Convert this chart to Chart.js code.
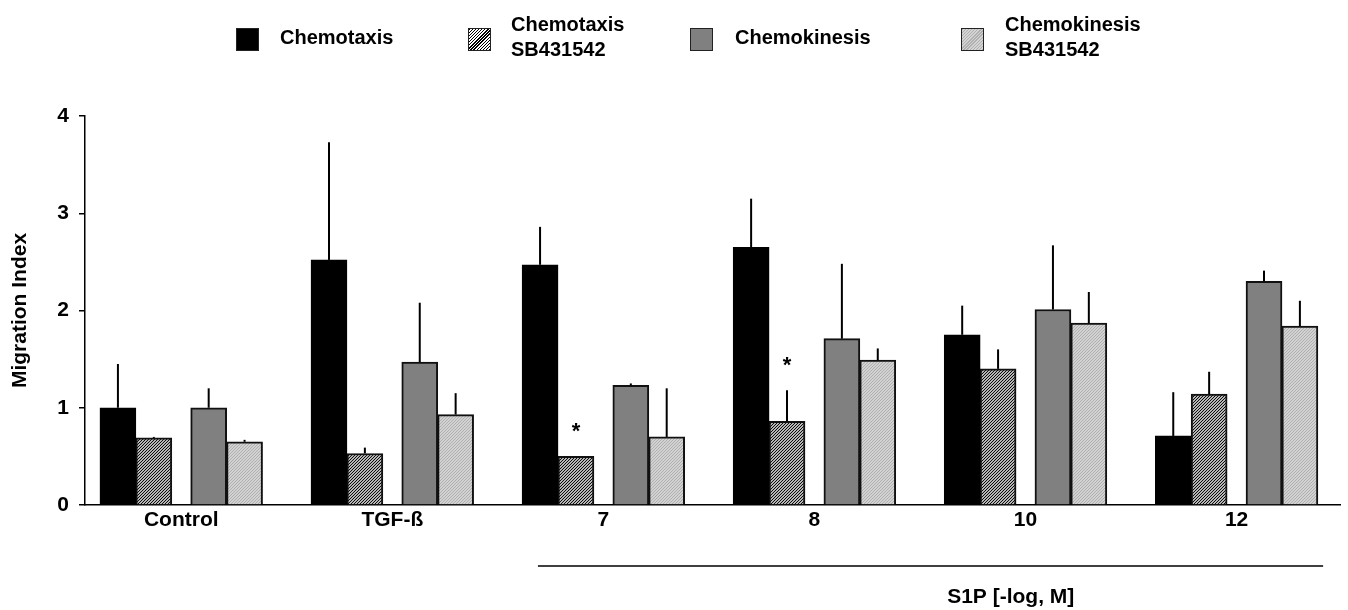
<!DOCTYPE html>
<html>
<head>
<meta charset="utf-8">
<script src="https://cdn.jsdelivr.net/npm/chart.js@4.4.1/dist/chart.umd.min.js"></script>
<style>
  html, body { margin: 0; padding: 0; background: #fff; }
  #wrap { position: relative; width: 1348px; height: 610px; overflow: hidden; }
  #chart { position: absolute; left: 0; top: 0; }
  .sw { position: absolute; width: 23px; height: 23px; border: 1.5px solid #222; box-sizing: border-box; }
  .lt { position: absolute; font: bold 20px "Liberation Sans", Arial, sans-serif; line-height: 25px; color: #000; white-space: nowrap; }
</style>
</head>
<body>
<div id="wrap">
  <canvas id="chart" width="1348" height="610"></canvas>
  <div class="sw" style="left:236px;top:28px;background:#000"></div>
  <div class="lt" style="left:280px;top:25px">Chemotaxis</div>
  <div class="sw" style="left:468px;top:28px;background:repeating-linear-gradient(135deg,#000 0 1px,#fff 1px 2.2px)"></div>
  <div class="lt" style="left:511px;top:12px">Chemotaxis<br>SB431542</div>
  <div class="sw" style="left:690px;top:28px;background:#808080"></div>
  <div class="lt" style="left:735px;top:25px">Chemokinesis</div>
  <div class="sw" style="left:961px;top:28px;background:repeating-linear-gradient(135deg,#b0b0b0 0 1px,#d4d4d4 1px 2.2px)"></div>
  <div class="lt" style="left:1005px;top:12px">Chemokinesis<br>SB431542</div>
</div>
<script>
// values
const groups = ['Control', 'TGF-ß', '7', '8', '10', '12'];
const chemotaxis     = [1.00, 2.52, 2.47, 2.65, 1.75, 0.71];
const chemotaxisSD   = [0.45, 1.21, 0.39, 0.50, 0.30, 0.45];
const chemotaxisSB   = [0.69, 0.53, 0.50, 0.86, 1.40, 1.14];
const chemotaxisSBSD = [0.01, 0.06, 0.00, 0.32, 0.20, 0.23];
const chemokinesis   = [1.00, 1.47, 1.23, 1.71, 2.01, 2.30];
const chemokinesisSD = [0.20, 0.61, 0.02, 0.77, 0.66, 0.11];
const chemokinesisSB   = [0.65, 0.93, 0.70, 1.49, 1.87, 1.84];
const chemokinesisSBSD = [0.02, 0.22, 0.50, 0.12, 0.32, 0.26];
const significance = ['', '', '*', '*', '', ''];
const yTicks = [0, 1, 2, 3, 4];

const FONT = '"Liberation Sans", Arial, sans-serif';

function hatch(bg, fg, size, lw) {
    var c = document.createElement('canvas');
    c.width = c.height = size;
    var x = c.getContext('2d');
    x.fillStyle = bg;
    x.fillRect(0, 0, size, size);
    x.strokeStyle = fg;
    x.lineWidth = lw;
    x.beginPath();
    x.moveTo(-size, size * 2); x.lineTo(size * 2, -size);
    x.moveTo(-size, size); x.lineTo(size, -size);
    x.moveTo(0, size * 2); x.lineTo(size * 2, 0);
    x.stroke();
    return x.createPattern(c, 'repeat');
}

// bar centre offsets inside a group (x units)
const offsets = [-0.30, -0.13, 0.13, 0.30];

function series(label, values, sd, fill, border, bw) {
    var n = series.n++;
    return {
        label: label,
        data: values.map(function (v, i) { return { x: i + offsets[n], y: v }; }),
        sd: sd,
        backgroundColor: fill,
        borderColor: border,
        borderWidth: bw,
        grouped: false,
        barThickness: 36
    };
}
series.n = 0;

const datasets = [
    series('Chemotaxis', chemotaxis, chemotaxisSD, '#000', '#000', 1),
    series('Chemotaxis SB431542', chemotaxisSB, chemotaxisSBSD, hatch('#fff', '#000', 3, 1.1), '#111', 2),
    series('Chemokinesis', chemokinesis, chemokinesisSD, '#808080', '#111', 2),
    series('Chemokinesis SB431542', chemokinesisSB, chemokinesisSBSD, hatch('#d2d2d2', '#b0b0b0', 3, 1), '#111', 2)
];

const extras = {
    id: 'extras',
    afterDatasetsDraw: function (chart) {
        var ctx = chart.ctx, x = chart.scales.x, y = chart.scales.y;
        ctx.save();
        ctx.strokeStyle = '#000';
        ctx.lineWidth = 2;
        chart.data.datasets.forEach(function (ds, di) {
            chart.getDatasetMeta(di).data.forEach(function (bar, i) {
                if (!ds.sd[i]) return;
                ctx.beginPath();
                ctx.moveTo(bar.x, bar.y);
                ctx.lineTo(bar.x, y.getPixelForValue(ds.data[i].y + ds.sd[i]));
                ctx.stroke();
            });
        });
        // significance marks over the SB431542 chemotaxis bars
        ctx.fillStyle = '#000';
        ctx.font = 'bold 22px ' + FONT;
        ctx.textAlign = 'center';
        ctx.textBaseline = 'middle';
        var sb = chart.getDatasetMeta(1).data;
        significance.forEach(function (s, i) {
            if (!s) return;
            var top = y.getPixelForValue(chemotaxisSB[i] + chemotaxisSBSD[i]);
            ctx.fillText(s, sb[i].x, top - 24);
        });
        // S1P bracket
        var yl = y.bottom + 61;
        ctx.lineWidth = 1.5;
        ctx.beginPath();
        ctx.moveTo(x.getPixelForValue(1.69), yl);
        ctx.lineTo(x.getPixelForValue(5.41), yl);
        ctx.stroke();
        ctx.font = 'bold 21px ' + FONT;
        ctx.fillText('S1P [-log, M]', x.getPixelForValue(3.93), yl + 31);
        ctx.restore();
    }
};

new Chart(document.getElementById('chart'), {
    type: 'bar',
    data: { datasets: datasets },
    options: {
        responsive: false,
        animation: false,
        layout: { padding: { top: 116, right: 8, left: 0, bottom: 0 } },
        plugins: { legend: { display: false }, tooltip: { enabled: false } },
        scales: {
            x: {
                type: 'linear',
                offset: false,
                min: -0.456,
                max: 5.49,
                grid: { display: false, drawTicks: false, offset: false },
                border: { color: '#000', width: 1.5 },
                ticks: {
                    color: '#000',
                    font: { family: FONT, size: 21, weight: 'bold' },
                    padding: 3,
                    autoSkip: false,
                    maxRotation: 0,
                    callback: function (v) { return groups[v]; }
                },
                afterBuildTicks: function (s) { s.ticks = groups.map(function (g, i) { return { value: i }; }); },
                afterFit: function (s) { s.height = 105; }
            },
            y: {
                min: 0,
                max: 4,
                grid: { drawOnChartArea: false, color: '#000', lineWidth: 1.5, tickLength: 6 },
                border: { color: '#000', width: 1.5 },
                ticks: {
                    color: '#000',
                    font: { family: FONT, size: 21, weight: 'bold' },
                    padding: 10
                },
                afterBuildTicks: function (s) { s.ticks = yTicks.map(function (v) { return { value: v }; }); },
                title: {
                    display: true,
                    text: 'Migration Index',
                    color: '#000',
                    font: { family: FONT, size: 21, weight: 'bold' },
                    padding: { top: 8, bottom: 0 }
                },
                afterFit: function (s) { s.width = 85; }
            }
        }
    },
    plugins: [extras]
});
</script>
</body>
</html>
